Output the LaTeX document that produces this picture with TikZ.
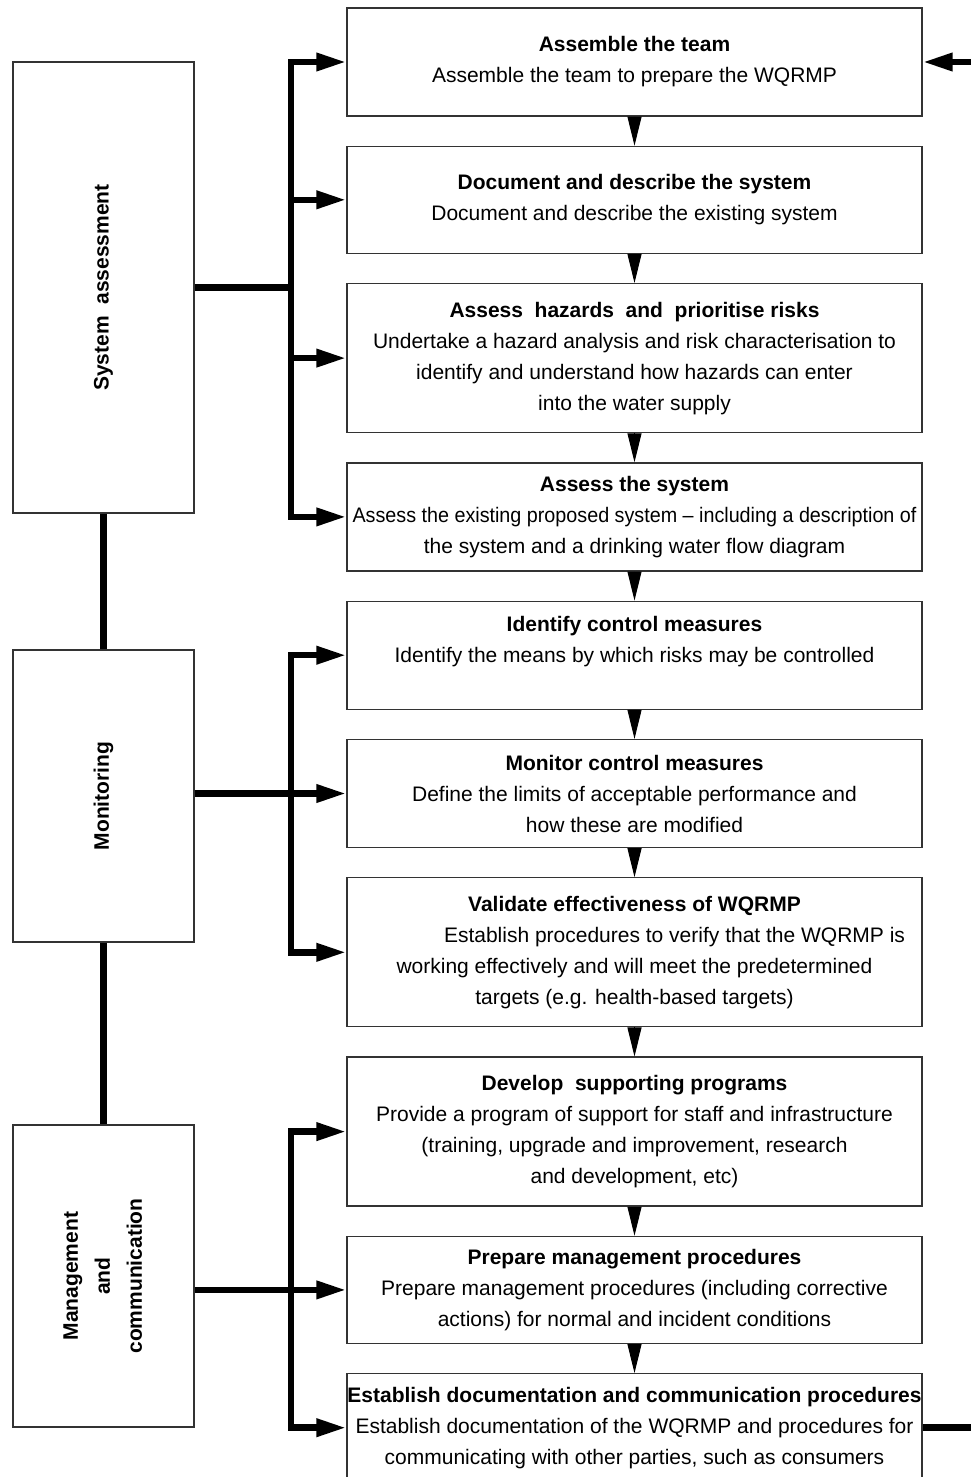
\documentclass[tikz,border=0pt]{standalone}
\usepackage{fontspec}
\setmainfont{Liberation Sans}
\usepackage{graphicx}
\usetikzlibrary{arrows.meta,positioning,calc}

\begin{document}
\begin{tikzpicture}[x=1pt, y=-1pt,
  stage/.style={draw=black!80, line width=1.3pt, align=center, minimum width=575pt, inner xsep=0pt, inner ysep=2pt, font=\fontsize{21}{31}\selectfont},
  group/.style={draw=black!80, line width=1.3pt, minimum width=181pt, inner sep=0pt, font=\fontsize{21}{32}\selectfont\bfseries},
  bus/.style={line width=6.5pt},
  feed/.style={bus, -{Triangle[length=30pt, width=17pt]}},
  nextarr/.style={line width=1pt, -{Triangle[length=29pt, width=14pt]}},
]
\useasboundingbox (0,0) rectangle (970,1477);
\fill[white] (0,0) rectangle (970,1477);

% main column of steps
\node[stage, minimum height=108pt] (b1) at (634.5,62) {\textbf{Assemble the team}\\Assemble the team to prepare the WQRMP};
\node[stage, minimum height=107pt, below=29pt of b1] (b2) {\textbf{Document and describe the system}\\Document and describe the existing system};
\node[stage, minimum height=149pt, below=29pt of b2] (b3) {\textbf{Assess\ \ hazards\ \ and\ \ prioritise risks}\\Undertake a hazard analysis and risk characterisation to\\identify and understand how hazards can enter\\into the water supply};
\node[stage, minimum height=108pt, below=29pt of b3] (b4) {\textbf{Assess the system}\\\scalebox{0.94}[1]{Assess the existing proposed system -- including a description of}\\the system and a drinking water flow diagram};
\node[stage, minimum height=108pt, below=29pt of b4] (b5) {\textbf{Identify control measures}\\Identify the means by which risks may be controlled\\\mbox{}};
\node[stage, minimum height=108pt, below=29pt of b5] (b6) {\textbf{Monitor control measures}\\Define the limits of acceptable performance and\\how these are modified};
\node[stage, minimum height=149pt, below=29pt of b6] (b7) {\textbf{Validate effectiveness of WQRMP}\\\hspace*{80pt}Establish procedures to verify that the WQRMP is\\working effectively and will meet the predetermined\\targets (e.g. health-based targets)};
\node[stage, minimum height=149pt, below=29pt of b7] (b8) {\textbf{Develop\ \ supporting programs}\\Provide a program of support for staff and infrastructure\\(training, upgrade and improvement, research\\and development, etc)};
\node[stage, minimum height=107pt, below=29pt of b8] (b9) {\textbf{Prepare management procedures}\\Prepare management procedures (including corrective\\actions) for normal and incident conditions};
\node[stage, minimum height=108pt, below=29pt of b9] (b10) {\textbf{Establish documentation and communication procedures}\\Establish documentation of the WQRMP and procedures for\\communicating with other parties, such as consumers};

\draw[nextarr] (b1) -- (b2);
\draw[nextarr] (b2) -- (b3);
\draw[nextarr] (b3) -- (b4);
\draw[nextarr] (b4) -- (b5);
\draw[nextarr] (b5) -- (b6);
\draw[nextarr] (b6) -- (b7);
\draw[nextarr] (b7) -- (b8);
\draw[nextarr] (b8) -- (b9);
\draw[nextarr] (b9) -- (b10);

% groups on the left
\node[group, minimum height=451pt] (g1) at (103.5,287.5) {\rotatebox{90}{System\ \ assessment}};
\node[group, minimum height=292pt] (g2) at (103.5,796) {\rotatebox{90}{Monitoring}};
\node[group, minimum height=302pt] (g3) at (103.5,1276) {\rotatebox{90}{\begin{tabular}{@{}c@{}}Management\\and\\communication\end{tabular}}};

\draw[bus] (g1.south) -- (g2.north);
\draw[bus] (g2.south) -- (g3.north);

% bus lines to the steps
\coordinate (bx) at (291,0);
\draw[bus] (g1.east) -- (g1.east -| bx);
\draw[feed] (g1.east -| bx) |- (b1.west);
\draw[feed] (g1.east -| bx) |- (b4.west);
\draw[feed] (b2.west -| bx) -- (b2.west);
\draw[feed] (b3.west -| bx) -- (b3.west);

\draw[feed] (g2.east |- b6.west) -- (b6.west);
\draw[feed] (b6.west -| bx) |- (b5.west);
\draw[feed] (b6.west -| bx) |- (b7.west);

\draw[feed] (g3.east |- b9.west) -- (b9.west);
\draw[feed] (b9.west -| bx) |- (b8.west);
\draw[feed] (b9.west -| bx) |- (b10.west);

% loop back to the first step
\coordinate (loop) at (990,0);
\draw[feed] (b10.east) -- (b10.east -| loop) -- (b1.east -| loop) -- (b1.east);
\end{tikzpicture}
\end{document}
